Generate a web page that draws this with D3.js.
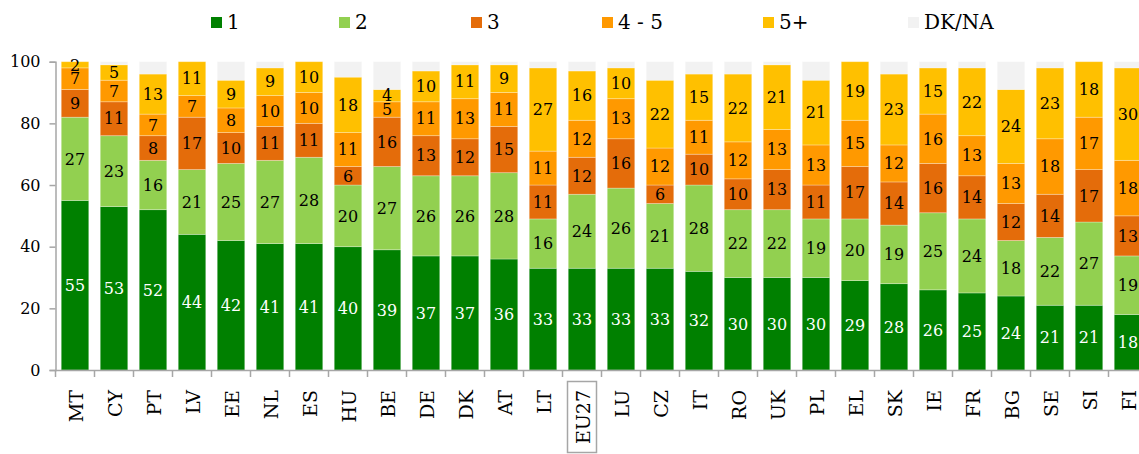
<!DOCTYPE html>
<html>
<head>
<meta charset="utf-8">
<script src="https://cdn.jsdelivr.net/npm/d3@7"></script>
<style>
  html, body { margin: 0; padding: 0; background: #fff; }
  svg { display: block; }
  text { font-family: "DejaVu Serif", Georgia, serif; }
</style>
</head>
<body>
<svg id="chart" width="1139" height="454"></svg>
<script>
// ---- Data ----
const categories = ["MT","CY","PT","LV","EE","NL","ES","HU","BE","DE","DK","AT","LT","EU27","LU","CZ","IT","RO","UK","PL","EL","SK","IE","FR","BG","SE","SI","FI"];
const series1   = [55,53,52,44,42,41,41,40,39,37,37,36,33,33,33,33,32,30,30,30,29,28,26,25,24,21,21,18];
const series2   = [27,23,16,21,25,27,28,20,27,26,26,28,16,24,26,21,28,22,22,19,20,19,25,24,18,22,27,19];
const series3   = [ 9,11, 8,17,10,11,11, 6,16,13,12,15,11,12,16, 6,10,10,13,11,17,14,16,14,12,14,17,13];
const series45  = [ 7, 7, 7, 7, 8,10,10,11, 5,11,13,11,11,12,13,12,11,12,13,13,15,12,16,13,13,18,17,18];
const series5p  = [ 2, 5,13,11, 9, 9,10,18, 4,10,11, 9,27,16,10,22,15,22,21,21,19,23,15,22,24,23,18,30];
const seriesNames = ["1","2","3","4 - 5","5+","DK/NA"];
const yTicks = [0,20,40,60,80,100];
const highlighted = "EU27";

// ---- Styles / layout ----
const colors = ["#008000","#92D050","#E46C0A","#FF9900","#FFC000","#F2F2F2"];
const labelColors = ["#fff","#000","#000","#000","#000",null];
const legendX = [211, 339, 471, 602, 763, 908];

const rows = categories.map((c, i) => {
  const r = {cat: c};
  r[seriesNames[0]] = series1[i];
  r[seriesNames[1]] = series2[i];
  r[seriesNames[2]] = series3[i];
  r[seriesNames[3]] = series45[i];
  r[seriesNames[4]] = series5p[i];
  r[seriesNames[5]] = Math.max(0, 100 - (series1[i]+series2[i]+series3[i]+series45[i]+series5p[i]));
  return r;
});

const svg = d3.select("#chart");

const x = d3.scaleBand()
  .domain(categories)
  .range([55.5, 55.5 + 28 * 39])
  .paddingInner(0.295)
  .paddingOuter(0.1475);

const y = d3.scaleLinear().domain([0, 100]).range([370, 61.7]);

const stack = d3.stack().keys(seriesNames);
const stacked = stack(rows);

// bars
const layers = svg.append("g").selectAll("g")
  .data(stacked).join("g")
  .attr("fill", (d, i) => colors[i]);

layers.selectAll("rect")
  .data(d => d.map(v => Object.assign(v, {key: d.key})))
  .join("rect")
  .attr("x", d => x(d.data.cat))
  .attr("width", x.bandwidth())
  .attr("y", d => y(d[1]))
  .attr("height", d => Math.max(0, y(d[0]) - y(d[1])))
  .attr("stroke", "#ffffff")
  .attr("stroke-opacity", 0.35)
  .attr("stroke-width", 0.8);

// value labels
stacked.forEach((layer, li) => {
  if (!labelColors[li]) return;
  svg.append("g").selectAll("text")
    .data(layer).join("text")
    .attr("x", d => x(d.data.cat) + x.bandwidth() / 2)
    .attr("y", d => (y(d[0]) + y(d[1])) / 2)
    .attr("dy", "0.36em")
    .attr("text-anchor", "middle")
    .attr("font-size", 16)
    .attr("fill", labelColors[li])
    .text(d => d.data[layer.key]);
});

// y axis
const yAxis = d3.axisLeft(y).tickValues(yTicks).tickSize(6).tickPadding(9).tickFormat(d3.format("d"));
const gy = svg.append("g").attr("transform", "translate(55.5,0)").call(yAxis);
gy.select(".domain").attr("stroke", "#a6a6a6").attr("stroke-width", 1.5);
gy.selectAll(".tick line").attr("stroke", "#a6a6a6").attr("stroke-width", 1.5);
gy.selectAll(".tick text").attr("font-family", "DejaVu Serif, serif").attr("font-size", 16).attr("fill", "#000");

// x axis (line + boundary ticks)
const gx = svg.append("g");
const x0 = x.range()[0], step = x.step();
gx.append("line")
  .attr("x1", x0).attr("x2", x.range()[1])
  .attr("y1", y(0) + 0.5).attr("y2", y(0) + 0.5)
  .attr("stroke", "#a6a6a6").attr("stroke-width", 1.5);
gx.selectAll("line.tk")
  .data(d3.range(categories.length + 1)).join("line")
  .attr("class", "tk")
  .attr("x1", i => x0 + i * step).attr("x2", i => x0 + i * step)
  .attr("y1", y(0)).attr("y2", y(0) + 7)
  .attr("stroke", "#a6a6a6").attr("stroke-width", 1.5);

// category labels
gx.selectAll("text.cat")
  .data(categories).join("text")
  .attr("class", "cat")
  .attr("transform", c => `translate(${x(c) + x.bandwidth() / 2 + 1},390) rotate(-90)`)
  .attr("text-anchor", "end")
  .attr("dy", "0.36em")
  .attr("font-size", 19)
  .attr("fill", "#000")
  .text(c => c);

// highlight box
svg.append("rect")
  .attr("x", x(highlighted) + x.bandwidth() / 2 - 14.5)
  .attr("y", 381.5)
  .attr("width", 29)
  .attr("height", 71)
  .attr("fill", "none")
  .attr("stroke", "#a6a6a6")
  .attr("stroke-width", 1.5);

// legend
const lg = svg.append("g").selectAll("g")
  .data(seriesNames).join("g")
  .attr("transform", (d, i) => `translate(${legendX[i]},17)`);
lg.append("rect").attr("width", 11).attr("height", 11).attr("fill", (d, i) => colors[i]);
lg.append("text")
  .attr("x", 16).attr("y", 12)
  .attr("font-size", 20)
  .attr("fill", "#000")
  .text(d => d);
</script>
</body>
</html>
